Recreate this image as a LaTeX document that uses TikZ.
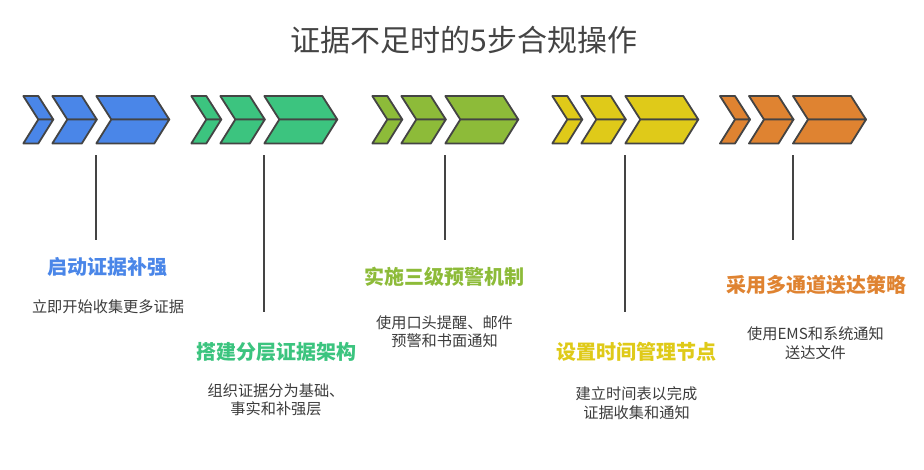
\documentclass[tikz,border=0pt]{standalone}
\usepackage{fontspec}
\setmainfont{Noto Sans CJK SC}
\usepackage{tikz}

\definecolor{edgegray}{HTML}{444444}
\definecolor{textgray}{HTML}{3C3C3C}
\definecolor{stepblue}{HTML}{4A86E8}
\definecolor{stepgreen}{HTML}{3CC47F}
\definecolor{stepolive}{HTML}{8DBB39}
\definecolor{stepyellow}{HTML}{DFCA19}
\definecolor{steporange}{HTML}{DF8331}

\tikzset{
  chev/.style={draw=edgegray, line width=1.8pt, line join=round},
  stem/.style={draw=edgegray, line width=1.8pt},
  headline/.style={font=\bfseries\fontsize{20}{24}\selectfont},
  note/.style={font=\fontsize{15.2}{18.5}\selectfont, text=textgray, align=center}
}

% three chevrons of one step: left x, fill colour
\newcommand{\chevgroup}[2]{%
  \foreach \l/\w in {0/15, 29/29.5, 73/58}{
    \filldraw[chev, fill=#2] (#1+\l,96) -- ++(\w,0) -- ++(15,23.5) -- ++(-\w,0) -- cycle;
    \filldraw[chev, fill=#2] (#1+\l,143.5) -- ++(\w,0) -- ++(15,-24) -- ++(-\w,0) -- cycle;
  }
}

\begin{document}
\begin{tikzpicture}[x=1pt, y=-1pt]
  \useasboundingbox (0,0) rectangle (924,469);

  \node[font=\fontsize{30}{34}\selectfont, text=edgegray] (title) at (464,40) {证据不足时的5步合规操作};

  % chevrons and stems
  \foreach \x/\c/\e [count=\i] in {23.3/stepblue/240, 191.3/stepgreen/312, 372.3/stepolive/240, 552.3/stepyellow/312, 720/steporange/240}{
    \chevgroup{\x}{\c}
    \coordinate (g\i) at (\x+72.7,155);
    \coordinate (l\i) at (\x+72.7,\e);
    \draw[stem] (g\i) -- (l\i);
  }

  \node[headline, text=stepblue] (t1) at (107.5,267) {启动证据补强};
  \node[note] (d1) at (108,307) {立即开始收集更多证据};

  \node[headline, text=stepgreen] (t2) at (276,352) {搭建分层证据架构};
  \node[note] (d2) at (276,400) {组织证据分为基础、\\事实和补强层};

  \node[headline, text=stepolive] (t3) at (444.5,277) {实施三级预警机制};
  \node[note] (d3) at (444.5,331.5) {使用口头提醒、邮件\\预警和书面通知};

  \node[headline, text=stepyellow] (t4) at (636,352) {设置时间管理节点};
  \node[note] (d4) at (636.5,403) {建立时间表以完成\\证据收集和通知};

  \node[headline, text=steporange] (t5) at (816,285) {采用多通道送达策略};
  \node[note] (d5) at (815.5,343) {使用EMS和系统通知\\送达文件};
\end{tikzpicture}
\end{document}
